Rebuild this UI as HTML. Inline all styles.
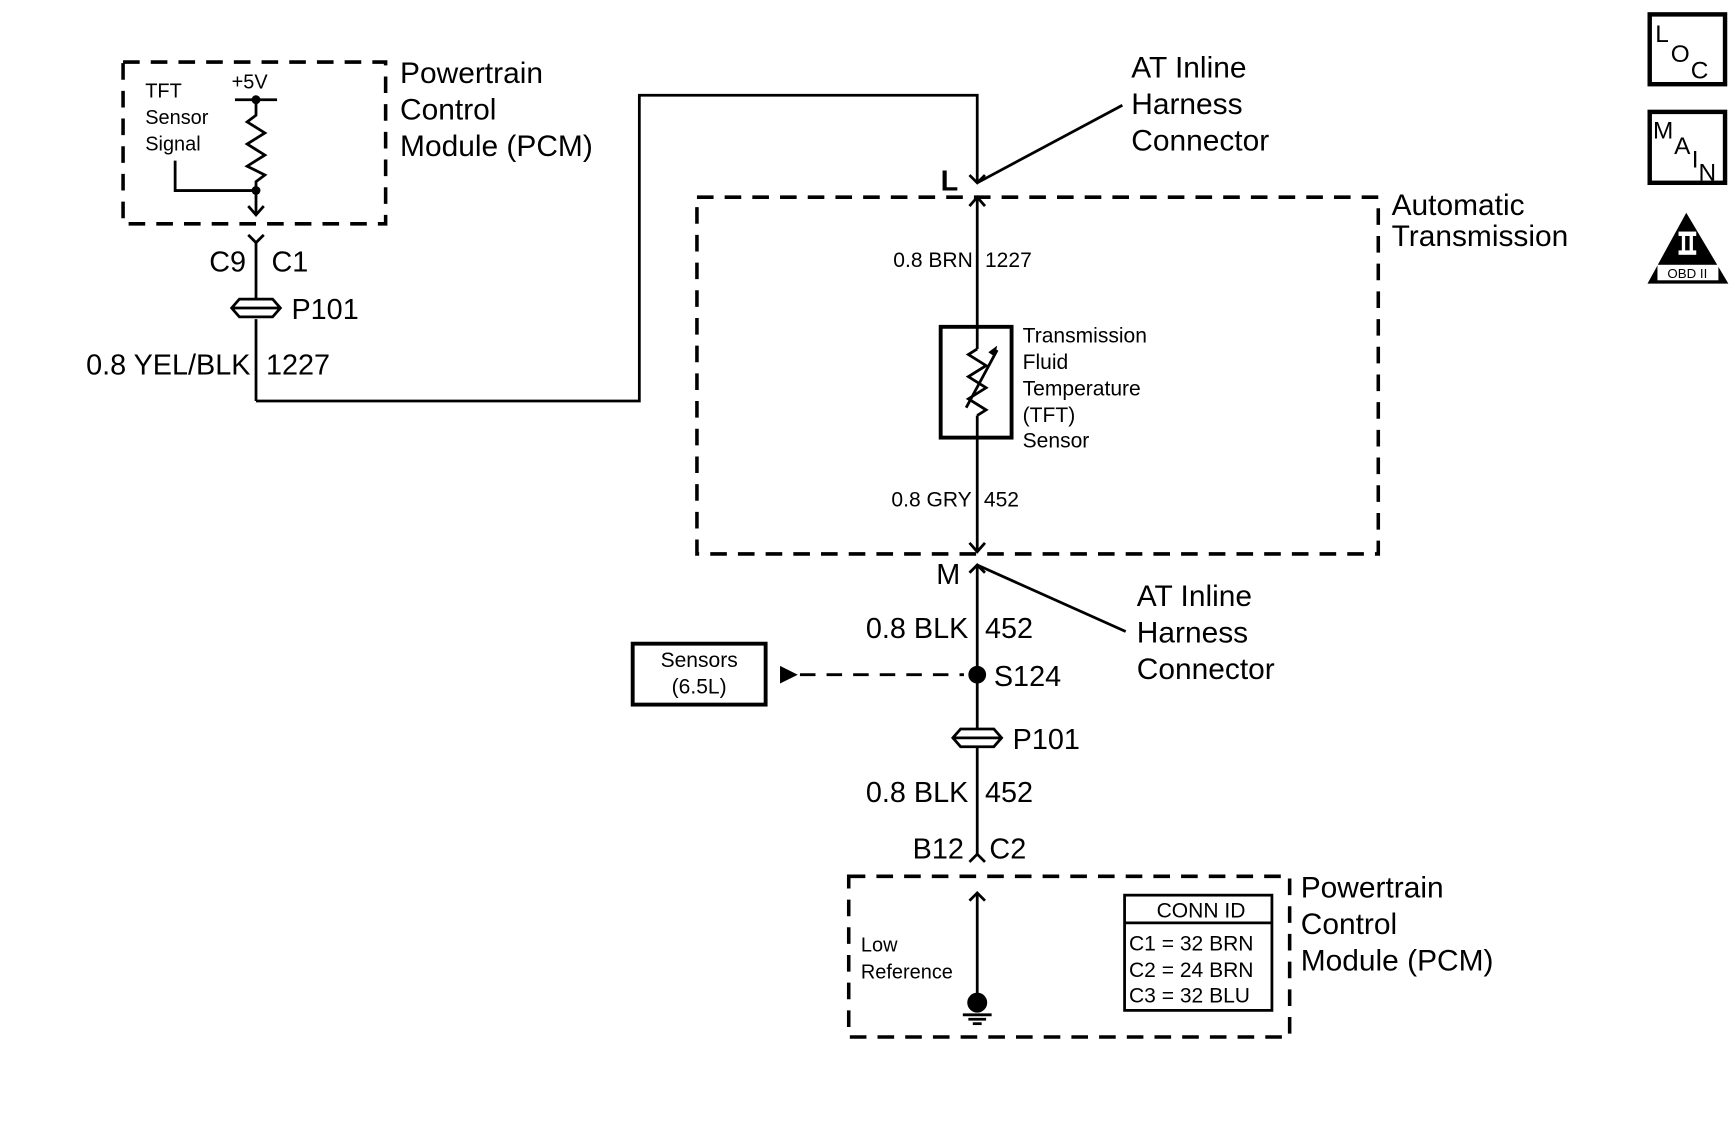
<!DOCTYPE html>
<html><head><meta charset="utf-8"><style>
html,body{margin:0;padding:0;background:#fff;}
svg{display:block;}
text{font-family:"Liberation Sans",Arial,sans-serif;fill:#000;}
</style></head><body>
<svg width="1734" height="1140" viewBox="0 0 1565 1029" xmlns="http://www.w3.org/2000/svg">
<g fill="none" stroke="#000" stroke-width="3.2" stroke-dasharray="15,10">
<rect x="111" y="56" width="237" height="146"/>
<rect x="629" y="178" width="615" height="322"/>
<rect x="766" y="791" width="398" height="145"/>
</g>
<g fill="none" stroke="#000" stroke-width="2.5">
<line x1="212" y1="90" x2="250" y2="90"/>
<polyline points="231,90 231,104 223,110 239,120 223,130 239,140 223,150 239,158 231,164 231,194"/>
<polyline points="158,145 158,172 231,172"/>
<polyline points="224,186 231,194 238,186"/>
<polyline points="224,212 231,219 238,212"/>
<line x1="231" y1="219" x2="231" y2="270"/>
<line x1="231" y1="288" x2="231" y2="362"/>
<polyline points="231,362 577,362 577,86 882,86 882,165"/>
<polyline points="875,158 882,165 889,158"/>
<line x1="882" y1="165" x2="1013" y2="95"/>
<polyline points="875,186 882,178 889,186"/>
<line x1="882" y1="178" x2="882" y2="315"/>
<line x1="882" y1="375" x2="882" y2="498"/>
<polyline points="882,315 874,320 890,330 874,340 890,350 874,360 890,370 882,375"/>
<line x1="872" y1="368" x2="900" y2="316"/>
<polyline points="875,490 882,498 889,490"/>
<polyline points="875,517 882,510 889,517"/>
<line x1="882" y1="510" x2="1016" y2="570"/>
<line x1="882" y1="510" x2="882" y2="658"/>
<line x1="882" y1="675" x2="882" y2="772"/>
<polyline points="875,778 882,771 889,778"/>
<line x1="882" y1="806" x2="882" y2="900"/>
<polyline points="875,813 882,806 889,813"/>
<line x1="869" y1="916" x2="895" y2="916"/>
<line x1="874" y1="920" x2="890" y2="920"/>
<line x1="878" y1="924" x2="886" y2="924"/>
</g>
<polygon points="900,312 892,318 898,322" fill="#000"/>
<g fill="#000">
<circle cx="231" cy="90" r="4"/>
<circle cx="231" cy="172" r="4"/>
<circle cx="882" cy="609" r="8"/>
<circle cx="882" cy="905" r="9"/>
<polygon points="704,601 704,617 720,609"/>
</g>
<line x1="722" y1="609" x2="870" y2="609" stroke="#000" stroke-width="2.5" stroke-dasharray="14,10"/>
<g fill="none" stroke="#000" stroke-width="2.5">
<path d="M209,278 L216,270 L246,270 L253,278 L246,286 L216,286 Z M209,278 L253,278"/>
<path d="M860,666 L867,658 L897,658 L904,666 L897,674 L867,674 Z M860,666 L904,666"/>
</g>
<rect x="849" y="295" width="64" height="100" fill="none" stroke="#000" stroke-width="3.5"/>
<rect x="571" y="581" width="120" height="55" fill="none" stroke="#000" stroke-width="3.5"/>
<rect x="1015" y="808" width="133" height="104" fill="none" stroke="#000" stroke-width="2.5"/>
<line x1="1015" y1="833" x2="1148" y2="833" stroke="#000" stroke-width="2.5"/>
<rect x="1489" y="13" width="68" height="63" fill="none" stroke="#000" stroke-width="4"/>
<rect x="1489" y="101" width="68" height="64" fill="none" stroke="#000" stroke-width="4"/>
<polygon points="1522,192 1487,256 1560,256" fill="#000"/>
<rect x="1496" y="239" width="55" height="14" fill="#fff"/>
<rect x="1515" y="209" width="16" height="4" fill="#fff"/>
<rect x="1515" y="226" width="16" height="4" fill="#fff"/>
<rect x="1518" y="212" width="3" height="15" fill="#fff"/>
<rect x="1525" y="212" width="3" height="15" fill="#fff"/>
<text x="1523" y="251" font-size="12" text-anchor="middle">OBD II</text>
<text x="1494" y="38" font-size="22">L</text>
<text x="1508" y="56" font-size="22">O</text>
<text x="1526" y="71" font-size="22">C</text>
<text x="1492" y="125" font-size="22">M</text>
<text x="1511" y="139" font-size="22">A</text>
<text x="1527" y="151" font-size="22">I</text>
<text x="1533" y="163" font-size="22">N</text>
<g font-size="18">
<text x="131" y="88">TFT</text>
<text x="131" y="112">Sensor</text>
<text x="131" y="136">Signal</text>
<text x="209" y="80">+5V</text>
<text x="777" y="859">Low</text>
<text x="777" y="883">Reference</text>
</g>
<g font-size="19">
<text x="878" y="241" text-anchor="end">0.8 BRN</text>
<text x="889" y="241">1227</text>
<text x="923" y="309">Transmission</text>
<text x="923" y="333">Fluid</text>
<text x="923" y="357">Temperature</text>
<text x="923" y="381">(TFT)</text>
<text x="923" y="404">Sensor</text>
<text x="877" y="457" text-anchor="end">0.8 GRY</text>
<text x="888" y="457">452</text>
<text x="631" y="602" text-anchor="middle">Sensors</text>
<text x="631" y="626" text-anchor="middle">(6.5L)</text>
<text x="1084" y="828" text-anchor="middle">CONN ID</text>
<text x="1019" y="858">C1 = 32 BRN</text>
<text x="1019" y="882">C2 = 24 BRN</text>
<text x="1019" y="905">C3 = 32 BLU</text>
</g>
<g font-size="26">
<text x="222" y="245" text-anchor="end">C9</text>
<text x="245" y="245">C1</text>
<text x="263" y="288">P101</text>
<text x="226" y="338" text-anchor="end">0.8 YEL/BLK</text>
<text x="240" y="338">1227</text>
<text x="849" y="172" font-weight="bold">L</text>
<text x="845" y="527">M</text>
<text x="874" y="576" text-anchor="end">0.8 BLK</text>
<text x="889" y="576">452</text>
<text x="897" y="619">S124</text>
<text x="914" y="676">P101</text>
<text x="874" y="724" text-anchor="end">0.8 BLK</text>
<text x="889" y="724">452</text>
<text x="870" y="775" text-anchor="end">B12</text>
<text x="893" y="775">C2</text>
</g>
<g font-size="27">
<text x="361" y="75">Powertrain</text>
<text x="361" y="108">Control</text>
<text x="361" y="141">Module (PCM)</text>
<text x="1021" y="70">AT Inline</text>
<text x="1021" y="103">Harness</text>
<text x="1021" y="136">Connector</text>
<text x="1256" y="194">Automatic</text>
<text x="1256" y="222">Transmission</text>
<text x="1026" y="547">AT Inline</text>
<text x="1026" y="580">Harness</text>
<text x="1026" y="613">Connector</text>
<text x="1174" y="810">Powertrain</text>
<text x="1174" y="843">Control</text>
<text x="1174" y="876">Module (PCM)</text>
</g>
</svg>
</body></html>
